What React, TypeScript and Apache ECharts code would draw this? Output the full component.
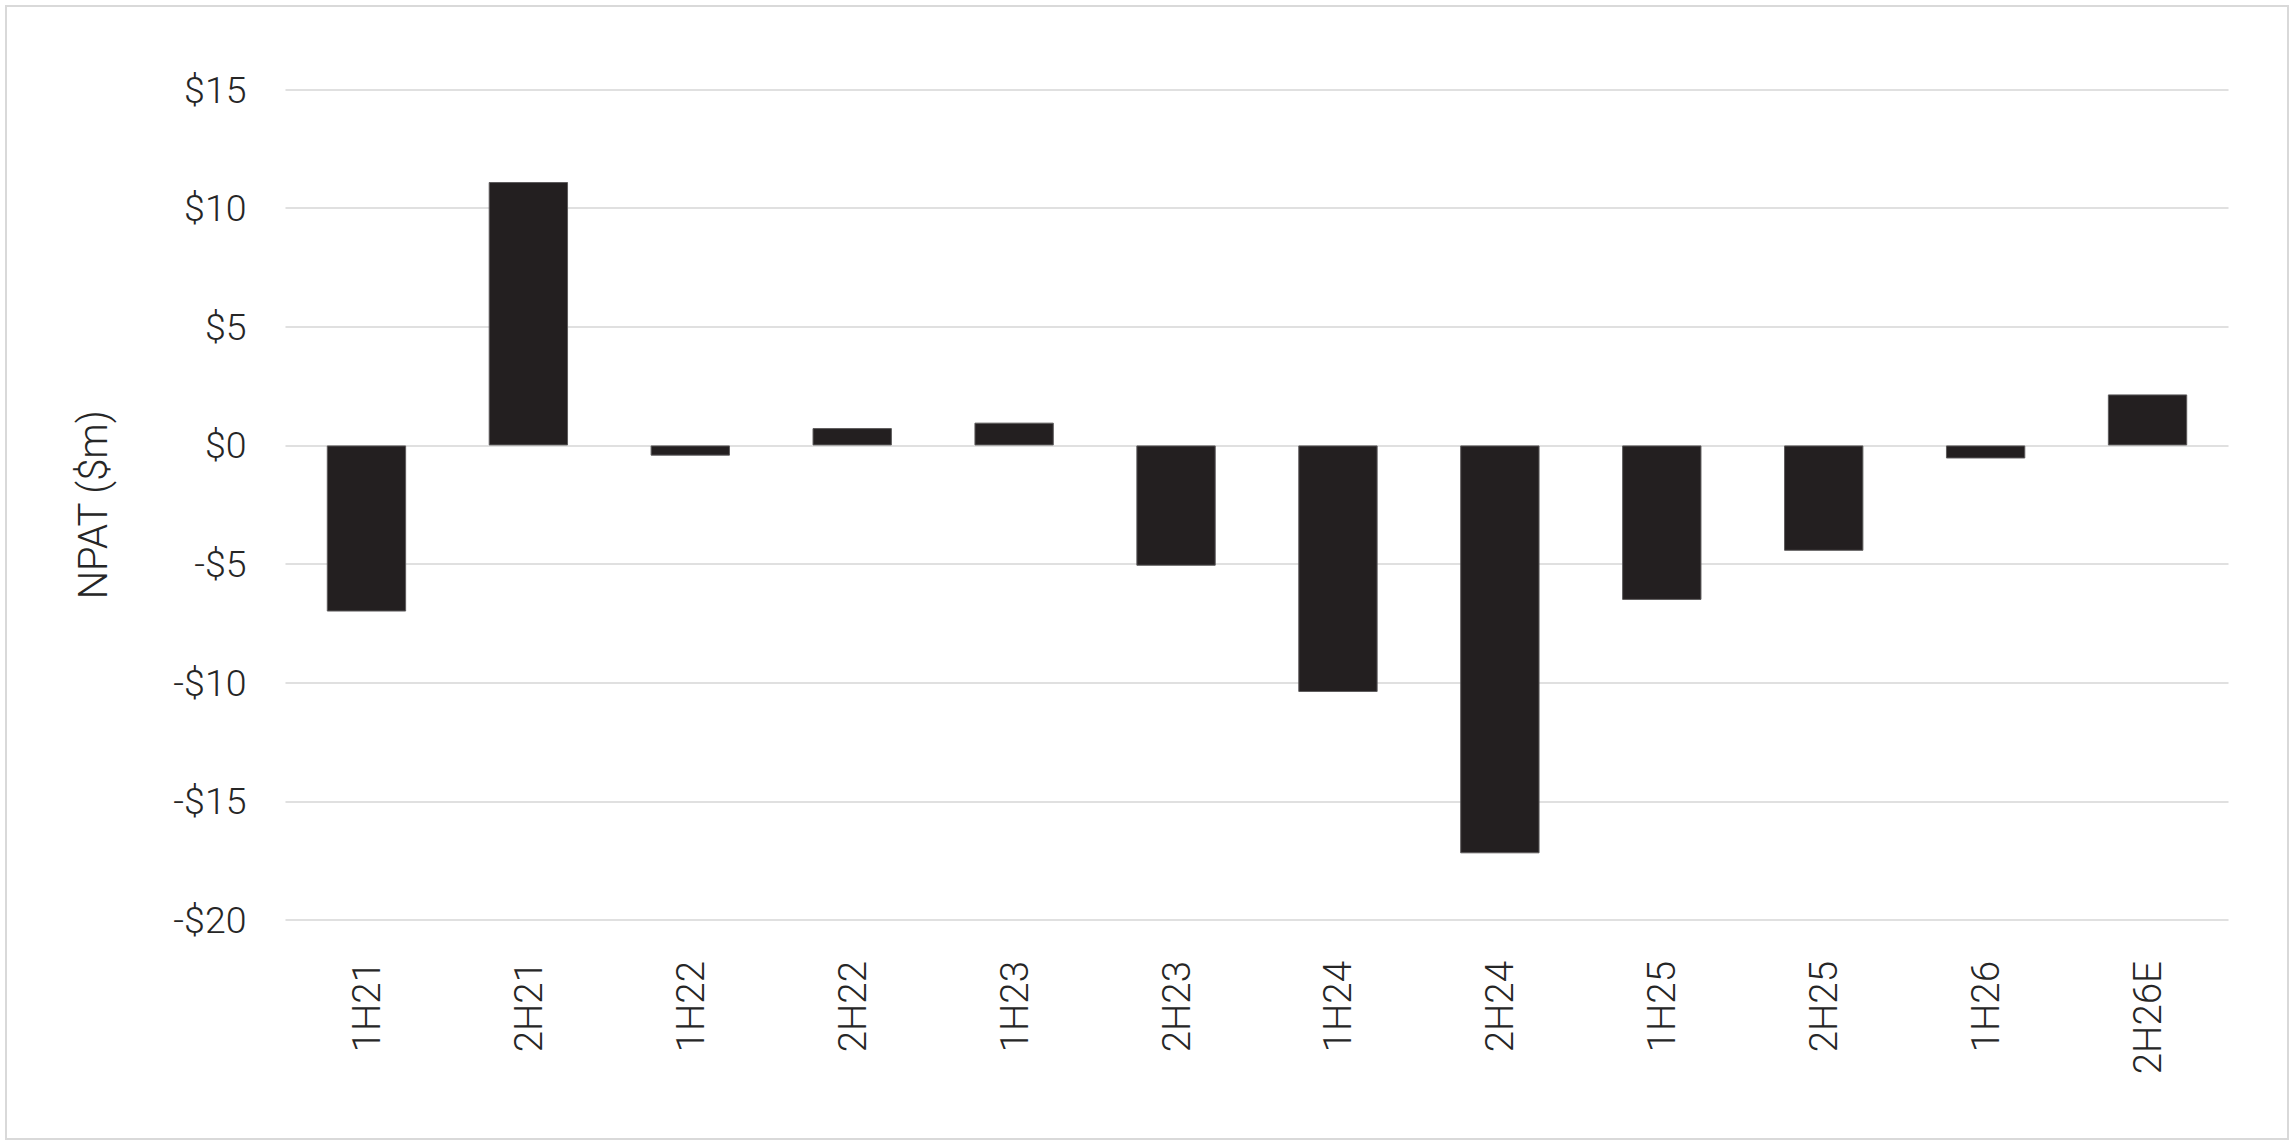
import React, { useEffect, useRef } from "react";
import * as echarts from "echarts";

const categories = ["1H21", "2H21", "1H22", "2H22", "1H23", "2H23", "1H24", "2H24", "1H25", "2H25", "1H26", "2H26E"];
const npatValues = [-7.0, 11.1, -0.43, 0.73, 0.96, -5.07, -10.39, -17.19, -6.51, -4.44, -0.55, 2.15];
const yTicks = { min: -20, max: 15, interval: 5 };
const yAxisName = "NPAT ($m)";

const W = 2296;
const H = 1146;

export default function App() {
  const ref = useRef<HTMLDivElement>(null);
  useEffect(() => {
    document.body.style.margin = "0";
    if (!ref.current) return;
    const chart = echarts.init(ref.current, null, { renderer: "svg" });
    const font = "Roboto";
    chart.setOption({
      animation: false,
      backgroundColor: "#ffffff",
      graphic: [
        {
          type: "rect",
          shape: { x: 6, y: 6, width: 2282, height: 1133 },
          style: { fill: "none", stroke: "#d9d9d9", lineWidth: 2 },
          silent: true,
        },
      ],
      grid: { left: 285.5, right: 67.5, top: 89.5, bottom: 226, containLabel: false },
      xAxis: {
        type: "category",
        data: categories,
        axisLine: { show: false },
        axisTick: { show: false },
        axisLabel: {
          rotate: 90,
          margin: 41,
          fontFamily: font,
          fontWeight: 300,
          fontSize: 38.5,
          color: "#262626",
          interval: 0,
        },
      },
      yAxis: {
        type: "value",
        min: yTicks.min,
        max: yTicks.max,
        interval: yTicks.interval,
        name: yAxisName,
        nameLocation: "middle",
        nameRotate: 90,
        nameGap: 172,
        nameTextStyle: { fontFamily: font, fontWeight: 300, fontSize: 40, color: "#262626" },
        axisLine: { show: false },
        axisTick: { show: false },
        splitLine: { lineStyle: { color: "#e0e0e0", width: 2 } },
        axisLabel: {
          margin: 39,
          fontFamily: font,
          fontWeight: 300,
          fontSize: 37.5,
          color: "#262626",
          formatter: (v: number) => (v < 0 ? "-$" + Math.abs(v) : "$" + v),
        },
      },
      series: [
        {
          type: "bar",
          data: npatValues,
          barWidth: "49%",
          itemStyle: { color: "#231f20", borderColor: "#5c5a5b", borderWidth: 1 },
        },
      ],
    });
    return () => chart.dispose();
  }, []);
  return <div ref={ref} style={{ width: W, height: H }} />;
}
